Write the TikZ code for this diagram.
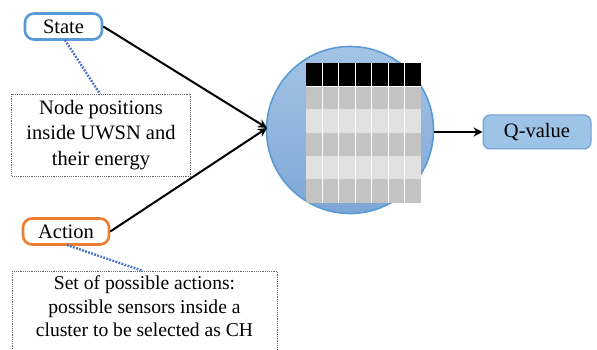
\documentclass[tikz,border=0pt]{standalone}
\usepackage{fontspec}
\setmainfont{Liberation Serif}
\usetikzlibrary{arrows.meta}
\definecolor{blueline}{HTML}{5B9BD5}
\definecolor{orangeline}{HTML}{ED7D31}
\definecolor{circtop}{HTML}{A4C4E6}
\definecolor{circbot}{HTML}{7EA6D6}
\definecolor{qfill}{HTML}{9DC3E6}
\definecolor{qline}{HTML}{6A9BD0}
\definecolor{dotblue}{HTML}{4472C4}
\definecolor{rowdark}{HTML}{C3C3C3}
\definecolor{rowlight}{HTML}{E1E1E1}
\tikzset{
  lbl/.style={rounded corners=9pt, line width=2.6pt, minimum height=26pt, font=\fontsize{20.5}{24}\selectfont, inner sep=0pt},
  notebox/.style={draw=black!60, dashed, dash pattern=on 1.2pt off 1pt, line width=0.9pt, align=center, inner sep=0pt},
  dotline/.style={draw=dotblue, line width=2.4pt, dash pattern=on 1.8pt off 1.4pt},
  conn/.style={draw=black, line width=2pt},
}
\begin{document}
\begin{tikzpicture}[x=1pt,y=-1pt]
\useasboundingbox (0,0) rectangle (597,350);
% label nodes
\node[lbl, draw=blueline, minimum width=77pt] (state) at (63.5,26.5) {State};
\node[lbl, draw=orangeline, minimum width=86pt] (action) at (66,231.5) {Action};
% note boxes
\node[notebox, minimum width=179pt, minimum height=82pt, font=\fontsize{20.5}{25.5}\selectfont] (note1) at (101,135) {Node positions\\inside UWSN and\\their energy};
\node[notebox, minimum width=265pt, minimum height=100pt, anchor=north, font=\fontsize{19.6}{23.5}\selectfont] (note2) at (144.5,271) {Set of possible actions:\\possible sensors inside a\\cluster to be selected as CH\\\strut};
% dotted connectors
\coordinate (s1) at (65,40);
\coordinate (s2) at (100,94);
\draw[dotline] (s1) -- (s2);
\coordinate (a1) at (67,245);
\coordinate (a2) at (143,271);
\draw[dotline] (a1) -- (a2);
% circle
\node[circle, draw=blueline, line width=1.6pt, top color=circtop, bottom color=circbot, minimum size=167pt, inner sep=0pt] (circ) at (350,130) {};
% table
\foreach \r/\c in {0/rowdark,1/rowlight,2/rowdark,3/rowlight,4/rowdark}{
  \fill[\c] (306,{86+\r*23.3}) rectangle (421,{86+(\r+1)*23.3});
}
\fill[black] (306,63) rectangle (421,86);
\foreach \i in {1,...,6}{
  \draw[white, line width=0.9pt] ({306+\i*16.43},63) -- ({306+\i*16.43},202.5);
}
\draw[white, line width=0.8pt] (306,86) -- (421,86);
% Q-value
\node[draw=qline, fill=qfill, line width=1pt, rounded corners=7pt, minimum width=108pt, minimum height=34pt, font=\fontsize{20.5}{24}\selectfont] (q) at (537,132) {Q-value};
% connectors
\coordinate (m) at (267,128);
\draw[conn, -{Stealth[length=9pt,width=9pt]}] (state.east) -- (m);
\draw[conn, -{Stealth[length=9pt,width=9pt]}] (action.east) -- (m);
\draw[conn, -{Stealth[length=9pt,width=9pt]}] (circ.east |- q.west) -- (q.west);
\end{tikzpicture}
\end{document}
